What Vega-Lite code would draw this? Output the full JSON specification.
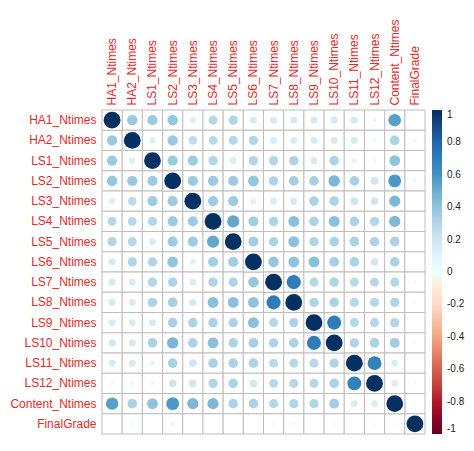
{
  "$schema": "https://vega.github.io/schema/vega-lite/v6.json",
  "autosize": {"type": "none"},
  "padding": {"left": 102, "top": 110, "right": 49, "bottom": 17},
  "width": 323,
  "height": 324,
  "background": "white",
  "config": {"view": {"stroke": null}, "font": "Liberation Sans"},
  "datasets": {
    "pairs": [
      {"a": "HA1_Ntimes", "b": "HA2_Ntimes", "r": 0.38},
      {"a": "HA1_Ntimes", "b": "LS1_Ntimes", "r": 0.37},
      {"a": "HA1_Ntimes", "b": "LS2_Ntimes", "r": 0.39},
      {"a": "HA1_Ntimes", "b": "LS3_Ntimes", "r": 0.13},
      {"a": "HA1_Ntimes", "b": "LS4_Ntimes", "r": 0.29},
      {"a": "HA1_Ntimes", "b": "LS5_Ntimes", "r": 0.30},
      {"a": "HA1_Ntimes", "b": "LS6_Ntimes", "r": 0.17},
      {"a": "HA1_Ntimes", "b": "LS7_Ntimes", "r": 0.17},
      {"a": "HA1_Ntimes", "b": "LS8_Ntimes", "r": 0.17},
      {"a": "HA1_Ntimes", "b": "LS9_Ntimes", "r": 0.17},
      {"a": "HA1_Ntimes", "b": "LS10_Ntimes", "r": 0.18},
      {"a": "HA1_Ntimes", "b": "LS11_Ntimes", "r": 0.17},
      {"a": "HA1_Ntimes", "b": "LS12_Ntimes", "r": 0.05},
      {"a": "HA1_Ntimes", "b": "Content_Ntimes", "r": 0.55},
      {"a": "HA1_Ntimes", "b": "FinalGrade", "r": 0.0},
      {"a": "HA2_Ntimes", "b": "LS1_Ntimes", "r": 0.13},
      {"a": "HA2_Ntimes", "b": "LS2_Ntimes", "r": 0.38},
      {"a": "HA2_Ntimes", "b": "LS3_Ntimes", "r": 0.26},
      {"a": "HA2_Ntimes", "b": "LS4_Ntimes", "r": 0.28},
      {"a": "HA2_Ntimes", "b": "LS5_Ntimes", "r": 0.29},
      {"a": "HA2_Ntimes", "b": "LS6_Ntimes", "r": 0.30},
      {"a": "HA2_Ntimes", "b": "LS7_Ntimes", "r": 0.16},
      {"a": "HA2_Ntimes", "b": "LS8_Ntimes", "r": 0.16},
      {"a": "HA2_Ntimes", "b": "LS9_Ntimes", "r": 0.16},
      {"a": "HA2_Ntimes", "b": "LS10_Ntimes", "r": 0.17},
      {"a": "HA2_Ntimes", "b": "LS11_Ntimes", "r": 0.17},
      {"a": "HA2_Ntimes", "b": "LS12_Ntimes", "r": 0.06},
      {"a": "HA2_Ntimes", "b": "Content_Ntimes", "r": 0.32},
      {"a": "HA2_Ntimes", "b": "FinalGrade", "r": 0.05},
      {"a": "LS1_Ntimes", "b": "LS2_Ntimes", "r": 0.37},
      {"a": "LS1_Ntimes", "b": "LS3_Ntimes", "r": 0.36},
      {"a": "LS1_Ntimes", "b": "LS4_Ntimes", "r": 0.30},
      {"a": "LS1_Ntimes", "b": "LS5_Ntimes", "r": 0.15},
      {"a": "LS1_Ntimes", "b": "LS6_Ntimes", "r": 0.30},
      {"a": "LS1_Ntimes", "b": "LS7_Ntimes", "r": 0.30},
      {"a": "LS1_Ntimes", "b": "LS8_Ntimes", "r": 0.31},
      {"a": "LS1_Ntimes", "b": "LS9_Ntimes", "r": 0.17},
      {"a": "LS1_Ntimes", "b": "LS10_Ntimes", "r": 0.32},
      {"a": "LS1_Ntimes", "b": "LS11_Ntimes", "r": 0.09},
      {"a": "LS1_Ntimes", "b": "LS12_Ntimes", "r": 0.06},
      {"a": "LS1_Ntimes", "b": "Content_Ntimes", "r": 0.41},
      {"a": "LS1_Ntimes", "b": "FinalGrade", "r": 0.0},
      {"a": "LS2_Ntimes", "b": "LS3_Ntimes", "r": 0.37},
      {"a": "LS2_Ntimes", "b": "LS4_Ntimes", "r": 0.37},
      {"a": "LS2_Ntimes", "b": "LS5_Ntimes", "r": 0.36},
      {"a": "LS2_Ntimes", "b": "LS6_Ntimes", "r": 0.40},
      {"a": "LS2_Ntimes", "b": "LS7_Ntimes", "r": 0.31},
      {"a": "LS2_Ntimes", "b": "LS8_Ntimes", "r": 0.34},
      {"a": "LS2_Ntimes", "b": "LS9_Ntimes", "r": 0.33},
      {"a": "LS2_Ntimes", "b": "LS10_Ntimes", "r": 0.46},
      {"a": "LS2_Ntimes", "b": "LS11_Ntimes", "r": 0.33},
      {"a": "LS2_Ntimes", "b": "LS12_Ntimes", "r": 0.20},
      {"a": "LS2_Ntimes", "b": "Content_Ntimes", "r": 0.58},
      {"a": "LS2_Ntimes", "b": "FinalGrade", "r": 0.06},
      {"a": "LS3_Ntimes", "b": "LS4_Ntimes", "r": 0.36},
      {"a": "LS3_Ntimes", "b": "LS5_Ntimes", "r": 0.36},
      {"a": "LS3_Ntimes", "b": "LS6_Ntimes", "r": 0.12},
      {"a": "LS3_Ntimes", "b": "LS7_Ntimes", "r": 0.16},
      {"a": "LS3_Ntimes", "b": "LS8_Ntimes", "r": 0.17},
      {"a": "LS3_Ntimes", "b": "LS9_Ntimes", "r": 0.32},
      {"a": "LS3_Ntimes", "b": "LS10_Ntimes", "r": 0.32},
      {"a": "LS3_Ntimes", "b": "LS11_Ntimes", "r": 0.20},
      {"a": "LS3_Ntimes", "b": "LS12_Ntimes", "r": 0.20},
      {"a": "LS3_Ntimes", "b": "Content_Ntimes", "r": 0.45},
      {"a": "LS3_Ntimes", "b": "FinalGrade", "r": 0.0},
      {"a": "LS4_Ntimes", "b": "LS5_Ntimes", "r": 0.52},
      {"a": "LS4_Ntimes", "b": "LS6_Ntimes", "r": 0.35},
      {"a": "LS4_Ntimes", "b": "LS7_Ntimes", "r": 0.31},
      {"a": "LS4_Ntimes", "b": "LS8_Ntimes", "r": 0.42},
      {"a": "LS4_Ntimes", "b": "LS9_Ntimes", "r": 0.32},
      {"a": "LS4_Ntimes", "b": "LS10_Ntimes", "r": 0.42},
      {"a": "LS4_Ntimes", "b": "LS11_Ntimes", "r": 0.32},
      {"a": "LS4_Ntimes", "b": "LS12_Ntimes", "r": 0.30},
      {"a": "LS4_Ntimes", "b": "Content_Ntimes", "r": 0.45},
      {"a": "LS4_Ntimes", "b": "FinalGrade", "r": 0.0},
      {"a": "LS5_Ntimes", "b": "LS6_Ntimes", "r": 0.35},
      {"a": "LS5_Ntimes", "b": "LS7_Ntimes", "r": 0.31},
      {"a": "LS5_Ntimes", "b": "LS8_Ntimes", "r": 0.42},
      {"a": "LS5_Ntimes", "b": "LS9_Ntimes", "r": 0.31},
      {"a": "LS5_Ntimes", "b": "LS10_Ntimes", "r": 0.32},
      {"a": "LS5_Ntimes", "b": "LS11_Ntimes", "r": 0.32},
      {"a": "LS5_Ntimes", "b": "LS12_Ntimes", "r": 0.31},
      {"a": "LS5_Ntimes", "b": "Content_Ntimes", "r": 0.32},
      {"a": "LS5_Ntimes", "b": "FinalGrade", "r": 0.0},
      {"a": "LS6_Ntimes", "b": "LS7_Ntimes", "r": 0.39},
      {"a": "LS6_Ntimes", "b": "LS8_Ntimes", "r": 0.41},
      {"a": "LS6_Ntimes", "b": "LS9_Ntimes", "r": 0.42},
      {"a": "LS6_Ntimes", "b": "LS10_Ntimes", "r": 0.34},
      {"a": "LS6_Ntimes", "b": "LS11_Ntimes", "r": 0.32},
      {"a": "LS6_Ntimes", "b": "LS12_Ntimes", "r": 0.19},
      {"a": "LS6_Ntimes", "b": "Content_Ntimes", "r": 0.32},
      {"a": "LS6_Ntimes", "b": "FinalGrade", "r": 0.0},
      {"a": "LS7_Ntimes", "b": "LS8_Ntimes", "r": 0.70},
      {"a": "LS7_Ntimes", "b": "LS9_Ntimes", "r": 0.29},
      {"a": "LS7_Ntimes", "b": "LS10_Ntimes", "r": 0.31},
      {"a": "LS7_Ntimes", "b": "LS11_Ntimes", "r": 0.28},
      {"a": "LS7_Ntimes", "b": "LS12_Ntimes", "r": 0.28},
      {"a": "LS7_Ntimes", "b": "Content_Ntimes", "r": 0.29},
      {"a": "LS7_Ntimes", "b": "FinalGrade", "r": 0.04},
      {"a": "LS8_Ntimes", "b": "LS9_Ntimes", "r": 0.31},
      {"a": "LS8_Ntimes", "b": "LS10_Ntimes", "r": 0.32},
      {"a": "LS8_Ntimes", "b": "LS11_Ntimes", "r": 0.29},
      {"a": "LS8_Ntimes", "b": "LS12_Ntimes", "r": 0.29},
      {"a": "LS8_Ntimes", "b": "Content_Ntimes", "r": 0.30},
      {"a": "LS8_Ntimes", "b": "FinalGrade", "r": 0.04},
      {"a": "LS9_Ntimes", "b": "LS10_Ntimes", "r": 0.70},
      {"a": "LS9_Ntimes", "b": "LS11_Ntimes", "r": 0.29},
      {"a": "LS9_Ntimes", "b": "LS12_Ntimes", "r": 0.29},
      {"a": "LS9_Ntimes", "b": "Content_Ntimes", "r": 0.30},
      {"a": "LS9_Ntimes", "b": "FinalGrade", "r": 0.0},
      {"a": "LS10_Ntimes", "b": "LS11_Ntimes", "r": 0.31},
      {"a": "LS10_Ntimes", "b": "LS12_Ntimes", "r": 0.32},
      {"a": "LS10_Ntimes", "b": "Content_Ntimes", "r": 0.35},
      {"a": "LS10_Ntimes", "b": "FinalGrade", "r": 0.04},
      {"a": "LS11_Ntimes", "b": "LS12_Ntimes", "r": 0.68},
      {"a": "LS11_Ntimes", "b": "Content_Ntimes", "r": 0.15},
      {"a": "LS11_Ntimes", "b": "FinalGrade", "r": 0.0},
      {"a": "LS12_Ntimes", "b": "Content_Ntimes", "r": 0.15},
      {"a": "LS12_Ntimes", "b": "FinalGrade", "r": 0.03},
      {"a": "Content_Ntimes", "b": "FinalGrade", "r": 0.03}
    ],
    "diagonal": [
      {"v": "HA1_Ntimes", "r": 1},
      {"v": "HA2_Ntimes", "r": 1},
      {"v": "LS1_Ntimes", "r": 1},
      {"v": "LS2_Ntimes", "r": 1},
      {"v": "LS3_Ntimes", "r": 1},
      {"v": "LS4_Ntimes", "r": 1},
      {"v": "LS5_Ntimes", "r": 1},
      {"v": "LS6_Ntimes", "r": 1},
      {"v": "LS7_Ntimes", "r": 1},
      {"v": "LS8_Ntimes", "r": 1},
      {"v": "LS9_Ntimes", "r": 1},
      {"v": "LS10_Ntimes", "r": 1},
      {"v": "LS11_Ntimes", "r": 1},
      {"v": "LS12_Ntimes", "r": 1},
      {"v": "Content_Ntimes", "r": 1},
      {"v": "FinalGrade", "r": 1}
    ]
  },
  "layer": [
    {
      "data": {"name": "pairs"},
      "mark": {"type": "rect", "fill": "white", "stroke": "#bdbdbd", "strokeWidth": 1},
      "encoding": {
        "x": {"field": "a", "type": "nominal"},
        "y": {"field": "b", "type": "nominal"}
      }
    },
    {
      "data": {"name": "pairs"},
      "mark": {"type": "rect", "fill": "white", "stroke": "#bdbdbd", "strokeWidth": 1},
      "encoding": {
        "x": {"field": "b", "type": "nominal"},
        "y": {"field": "a", "type": "nominal"}
      }
    },
    {
      "data": {"name": "diagonal"},
      "mark": {"type": "rect", "fill": "white", "stroke": "#bdbdbd", "strokeWidth": 1},
      "encoding": {
        "x": {"field": "v", "type": "nominal"},
        "y": {"field": "v", "type": "nominal"}
      }
    },
    {
      "data": {"name": "pairs"},
      "mark": {"type": "circle", "opacity": 1},
      "encoding": {
        "x": {"field": "a", "type": "nominal"},
        "y": {"field": "b", "type": "nominal"},
        "size": {"field": "r", "type": "quantitative", "scale": {"domain": [0, 1], "range": [0, 283]}, "legend": null},
        "color": {"field": "r", "type": "quantitative"}
      }
    },
    {
      "data": {"name": "pairs"},
      "mark": {"type": "circle", "opacity": 1},
      "encoding": {
        "x": {"field": "b", "type": "nominal"},
        "y": {"field": "a", "type": "nominal"},
        "size": {"field": "r", "type": "quantitative", "scale": {"domain": [0, 1], "range": [0, 283]}, "legend": null},
        "color": {"field": "r", "type": "quantitative"}
      }
    },
    {
      "data": {"name": "diagonal"},
      "mark": {"type": "circle", "opacity": 1},
      "encoding": {
        "x": {"field": "v", "type": "nominal"},
        "y": {"field": "v", "type": "nominal"},
        "size": {"field": "r", "type": "quantitative", "scale": {"domain": [0, 1], "range": [0, 283]}, "legend": null},
        "color": {"field": "r", "type": "quantitative"}
      }
    }
  ],
  "resolve": {"scale": {"x": "shared", "y": "shared", "color": "shared", "size": "shared"}},
  "encoding": {
    "x": {
      "type": "nominal",
      "scale": {
        "domain": ["HA1_Ntimes", "HA2_Ntimes", "LS1_Ntimes", "LS2_Ntimes", "LS3_Ntimes", "LS4_Ntimes", "LS5_Ntimes", "LS6_Ntimes", "LS7_Ntimes", "LS8_Ntimes", "LS9_Ntimes", "LS10_Ntimes", "LS11_Ntimes", "LS12_Ntimes", "Content_Ntimes", "FinalGrade"],
        "paddingInner": 0,
        "paddingOuter": 0
      },
      "axis": {"orient": "top", "title": null, "labelAngle": -90, "ticks": false, "domain": false, "labelColor": "#e02a2a", "labelFontSize": 12, "labelPadding": 5}
    },
    "y": {
      "type": "nominal",
      "scale": {
        "domain": ["HA1_Ntimes", "HA2_Ntimes", "LS1_Ntimes", "LS2_Ntimes", "LS3_Ntimes", "LS4_Ntimes", "LS5_Ntimes", "LS6_Ntimes", "LS7_Ntimes", "LS8_Ntimes", "LS9_Ntimes", "LS10_Ntimes", "LS11_Ntimes", "LS12_Ntimes", "Content_Ntimes", "FinalGrade"],
        "paddingInner": 0,
        "paddingOuter": 0
      },
      "axis": {"title": null, "ticks": false, "domain": false, "labelColor": "#e02a2a", "labelFontSize": 12, "labelPadding": 6}
    },
    "color": {
      "type": "quantitative",
      "scale": {
        "domain": [-1, -0.8, -0.6, -0.4, -0.2, 0, 0.2, 0.4, 0.6, 0.8, 1],
        "range": ["#67001F", "#B2182B", "#D6604D", "#F4A582", "#FDDBC7", "#FFFFFF", "#D1E5F0", "#92C5DE", "#4393C3", "#2166AC", "#053061"]
      },
      "legend": {
        "type": "gradient",
        "title": null,
        "gradientLength": 324,
        "gradientThickness": 10,
        "gradientStrokeWidth": 0,
        "offset": 7,
        "values": [-1, -0.8, -0.6, -0.4, -0.2, 0, 0.2, 0.4, 0.6, 0.8, 1],
        "labelExpr": "datum.value + ''",
        "labelFontSize": 10,
        "labelColor": "#222222",
        "labelOffset": 5,
        "labelBaseline": "middle",
        "labelOverlap": false
      }
    }
  }
}
